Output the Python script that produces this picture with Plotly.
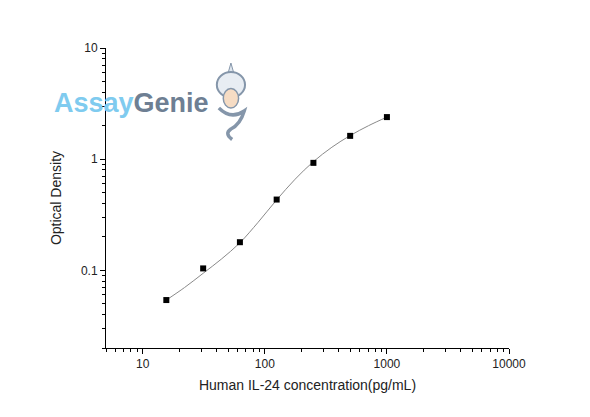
import plotly.graph_objects as go

# standard curve points
concentration = [15.6, 31.25, 62.5, 125, 250, 500, 1000]
optical_density = [0.054, 0.104, 0.179, 0.433, 0.926, 1.62, 2.39]

# fitted curve
fit_conc = [15.6, 22, 31.25, 44, 62.5, 88, 125, 177, 250, 354, 500, 707, 1000]
fit_od = [0.054, 0.070, 0.094, 0.126, 0.177, 0.27, 0.43, 0.66, 0.95, 1.28, 1.63, 2.0, 2.39]

x_tickvals = [10, 100, 1000, 10000]
x_ticktext = ["10", "100", "1000", "10000"]
y_tickvals = [0.1, 1, 10]
y_ticktext = ["0.1", "1", "10"]

# minor ticks at 2..9 of each decade
x_minor = [m * d for d in [1, 10, 100, 1000] for m in range(2, 10) if 5 <= m * d < 10000]
y_minor = [m * d for d in [0.01, 0.1, 1] for m in range(2, 10)]

fig = go.Figure()

fig.add_trace(go.Scatter(
    x=fit_conc, y=fit_od, mode="lines",
    line=dict(color="#8a8a8a", width=1, shape="spline", smoothing=1.0),
    hoverinfo="skip", showlegend=False,
))
fig.add_trace(go.Scatter(
    x=concentration, y=optical_density, mode="markers",
    marker=dict(symbol="square", size=6, color="black"),
    showlegend=False,
))

axis_font = dict(family="Liberation Sans, Arial, sans-serif", size=12, color="#222")
title_font = dict(family="Liberation Sans, Arial, sans-serif", size=14, color="#222")

fig.update_xaxes(
    type="log", range=[0.699, 4], showgrid=False, zeroline=False, automargin=False,
    showline=True, linecolor="black", linewidth=1,
    tickmode="array", tickvals=x_tickvals, ticktext=x_ticktext,
    ticks="outside", ticklen=5, tickcolor="black", tickfont=axis_font,
    minor=dict(tickmode="array", tickvals=x_minor, ticks="outside", ticklen=3,
               tickcolor="black", showgrid=False),
    title=dict(text="Human IL-24 concentration(pg/mL)", font=title_font, standoff=9),
)
fig.update_yaxes(
    type="log", range=[-1.699, 1], showgrid=False, zeroline=False, automargin=False,
    showline=True, linecolor="black", linewidth=1,
    tickmode="array", tickvals=y_tickvals, ticktext=y_ticktext,
    ticks="outside", ticklen=5, tickcolor="black", tickfont=axis_font,
    minor=dict(tickmode="array", tickvals=y_minor, ticks="outside", ticklen=3,
               tickcolor="black", showgrid=False),
    title=dict(text="Optical Density", font=title_font, standoff=16),
)

# watermark logo
fig.add_annotation(
    xref="paper", yref="paper", x=-0.134, y=0.817, xanchor="left", yanchor="middle",
    text="<b><span style='color:#7fcbef'>Assay</span><span style='color:#6e7f93'>Genie</span></b>",
    showarrow=False, font=dict(family="Liberation Sans, Arial, sans-serif", size=27),
)
# simple genie icon
fig.add_shape(type="path", xref="paper", yref="paper",
              path="M 0.31 0.95 L 0.302 0.912 L 0.318 0.912 Z",
              line=dict(color="#8596aa", width=1), fillcolor="#dfe6ee")
fig.add_shape(type="circle", xref="paper", yref="paper",
              x0=0.275, x1=0.345, y0=0.835, y1=0.92,
              line=dict(color="#8596aa", width=2), fillcolor="#e8edf3")
fig.add_shape(type="circle", xref="paper", yref="paper",
              x0=0.291, x1=0.329, y0=0.80, y1=0.865,
              line=dict(color="#8596aa", width=1.5), fillcolor="#f6dcc4")
fig.add_shape(type="path", xref="paper", yref="paper",
              path="M 0.28 0.80 Q 0.31 0.76 0.343 0.79 Q 0.333 0.745 0.31 0.73 Q 0.293 0.715 0.313 0.695",
              line=dict(color="#8596aa", width=3.5))

# page body adds an offset, so margins are shifted to keep the plot box in place
fig.update_layout(
    width=590, height=417,
    margin=dict(l=98, r=89, t=40, b=77),
    plot_bgcolor="white", paper_bgcolor="white",
)

fig.write_html("out.html")
